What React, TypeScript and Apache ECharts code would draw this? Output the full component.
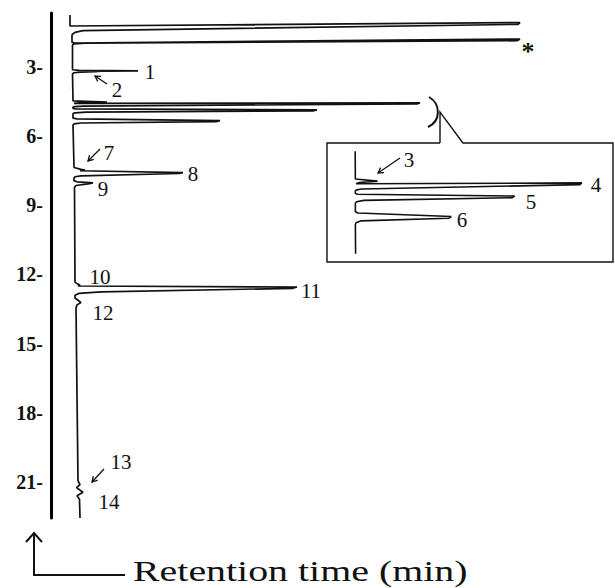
import { useEffect, useRef } from "react";
import * as echarts from "echarts";

// Chromatogram trace: retention time (min) and detector signal (arbitrary units)
const retentionTime = [
  0.74, 1.22, 1.07, 1.15, 1.42, 1.5, 1.58, 1.62, 1.93, 1.96, 1.785, 1.86, 1.97, 2.0, 2.05,
  3.12, 3.15, 3.165, 3.18, 3.2, 3.22, 3.25, 3.3,
  4.47, 4.52, 4.55, 4.58, 4.56, 4.6, 4.7, 4.72, 4.74,
  4.8, 4.82, 4.86, 4.9, 4.96, 4.99, 5.02,
  5.22, 5.25, 5.33, 5.37, 5.43, 5.47, 5.52,
  7.36, 7.44, 7.47, 7.5, 7.58, 7.62, 7.72, 7.76, 7.82,
  7.93, 7.98, 8.03, 8.07, 8.14, 8.22,
  12.33, 12.4, 12.46, 12.5, 12.545, 12.6, 12.76, 12.82, 12.9,
  13.02, 13.12, 13.22, 13.32, 13.45,
  20.95, 21.12, 21.25, 21.45, 21.6, 21.75, 22.566,
];
const signal = [
  -1, -1, 449, 447, 12, 4, 1.5, 1, 1, 4, 449, 446, 14, 3, 1.5,
  1.5, 8, 67, 30, 24, 10, 3, 1.5,
  2, 36, 8, 3, 349, 346, 12, 4, 2,
  2, 5, 246, 242, 15, 4, 2,
  2, 6, 149, 145, 10, 3, 2,
  3, 10, 14, 9, 112, 108, 10, 4, 3,
  3, 6, 22, 17, 5, 3.5,
  4, 6, 9, 7, 226, 222, 30, 8, 4,
  4, 7, 10, 6, 5,
  7, 9, 5.5, 12, 6, 8.5, 9,
];
const tickValues = [3, 6, 9, 12, 15, 18, 21];
const axisTitle = "Retention time (min)";

// peak annotations (label, pixel position)
const peakLabels: [string, number, number][] = [
  ["1", 150, 72],
  ["2", 117, 90],
  ["7", 109, 153],
  ["8", 193, 174],
  ["9", 103, 189],
  ["10", 100, 277],
  ["11", 311, 291],
  ["12", 103, 313],
  ["13", 121, 462],
  ["14", 109, 502],
  ["3", 409, 160],
  ["4", 596, 185],
  ["5", 531, 202],
  ["6", 462, 220],
];
const arrows: [number, number, number, number][] = [
  [107, 84, 95, 76],
  [100, 149, 88, 161],
  [104, 469, 92, 482],
  [400, 158, 378, 173],
];

function arrowGraphic(x1: number, y1: number, x2: number, y2: number) {
  const dx = x2 - x1;
  const dy = y2 - y1;
  const len = Math.hypot(dx, dy);
  const ux = dx / len;
  const uy = dy / len;
  const h = 6;
  const a = Math.PI / 6;
  const rot = (c: number, s: number) => [ux * c - uy * s, ux * s + uy * c];
  const [ax, ay] = rot(Math.cos(a), Math.sin(a));
  const [bx, by] = rot(Math.cos(-a), Math.sin(-a));
  return [
    { type: "line", shape: { x1, y1, x2, y2 }, style: { stroke: "#111", lineWidth: 1.3 } },
    {
      type: "polyline",
      shape: { points: [[x2 - ax * h, y2 - ay * h], [x2, y2], [x2 - bx * h, y2 - by * h]] },
      style: { stroke: "#111", lineWidth: 1.3, fill: "none" },
    },
  ];
}

export default function App() {
  const ref = useRef<HTMLDivElement>(null);
  useEffect(() => {
    document.body.style.margin = "0";
    if (!ref.current) return;
    const chart = echarts.init(ref.current, null, { renderer: "svg" });
    const trace = retentionTime.map((t, i) => [signal[i], t]);
    const font = "'Liberation Serif', 'Times New Roman', serif";
    const graphics: any[] = [];
    peakLabels.forEach(([txt, x, y]) => {
      graphics.push({
        type: "text",
        x,
        y,
        style: { text: txt, fill: "#111", font: `21px ${font}`, textAlign: "center", textVerticalAlign: "middle" },
      });
    });
    graphics.push({
      type: "text",
      x: 528,
      y: 51,
      style: { text: "*", fill: "#111", font: `bold 26px ${font}`, textAlign: "center", textVerticalAlign: "middle" },
    });
    arrows.forEach(([a, b, c, d]) => graphics.push(...arrowGraphic(a, b, c, d)));
    // inset box with callout
    graphics.push({
      type: "polyline",
      shape: { points: [[440, 143], [327, 143], [327, 262], [613, 262], [613, 143], [463, 143], [440, 112], [440, 143]] },
      style: { stroke: "#111", lineWidth: 1.4, fill: "none" },
    });
    graphics.push({
      type: "bezierCurve",
      shape: { x1: 429, y1: 97, cpx1: 441, cpy1: 104, cpx2: 441, cpy2: 121, x2: 428, y2: 127 },
      style: { stroke: "#111", lineWidth: 2, fill: "none" },
    });
    // bottom arrow + axis title
    graphics.push({
      type: "polyline",
      shape: { points: [[125, 575], [34, 575], [34, 533]] },
      style: { stroke: "#111", lineWidth: 2, fill: "none" },
    });
    graphics.push({
      type: "polyline",
      shape: { points: [[26, 542], [34, 533], [42, 542]] },
      style: { stroke: "#111", lineWidth: 2, fill: "none" },
    });
    graphics.push({
      type: "text",
      x: 133,
      y: 571,
      scaleX: 1.33,
      style: { text: axisTitle, fill: "#111", font: `30px ${font}`, textAlign: "left", textVerticalAlign: "middle" },
    });

    chart.setOption({
      animation: false,
      backgroundColor: "#fff",
      grid: [
        { left: 51, top: 13, width: 560, height: 505 },
        { left: 341, top: 152, width: 248, height: 101 },
      ],
      xAxis: [
        { type: "value", gridIndex: 0, min: -20, max: 540, show: false },
        { type: "value", gridIndex: 1, min: -20, max: 360, show: false },
      ],
      yAxis: [
        {
          type: "value",
          gridIndex: 0,
          inverse: true,
          min: 0.657,
          max: 22.566,
          axisLine: { show: true, onZero: false, lineStyle: { color: "#000", width: 3 } },
          axisTick: { show: false },
          splitLine: { show: false },
          axisLabel: {
            customValues: tickValues,
            formatter: (v: number) => `${v}-`,
            fontFamily: font,
            fontWeight: "bold",
            fontSize: 20,
            color: "#111",
            margin: 8,
          },
        },
        { type: "value", gridIndex: 1, inverse: true, min: 3.853, max: 6.164, show: false },
      ],
      series: [
        {
          type: "line",
          xAxisIndex: 0,
          yAxisIndex: 0,
          data: trace,
          showSymbol: false,
          lineStyle: { color: "#111", width: 1.7 },
        },
        {
          type: "line",
          xAxisIndex: 1,
          yAxisIndex: 1,
          data: trace,
          showSymbol: false,
          clip: true,
          lineStyle: { color: "#111", width: 1.6 },
        },
      ],
      graphic: graphics,
    });
    return () => chart.dispose();
  }, []);
  return <div ref={ref} style={{ width: 615, height: 588 }} />;
}
